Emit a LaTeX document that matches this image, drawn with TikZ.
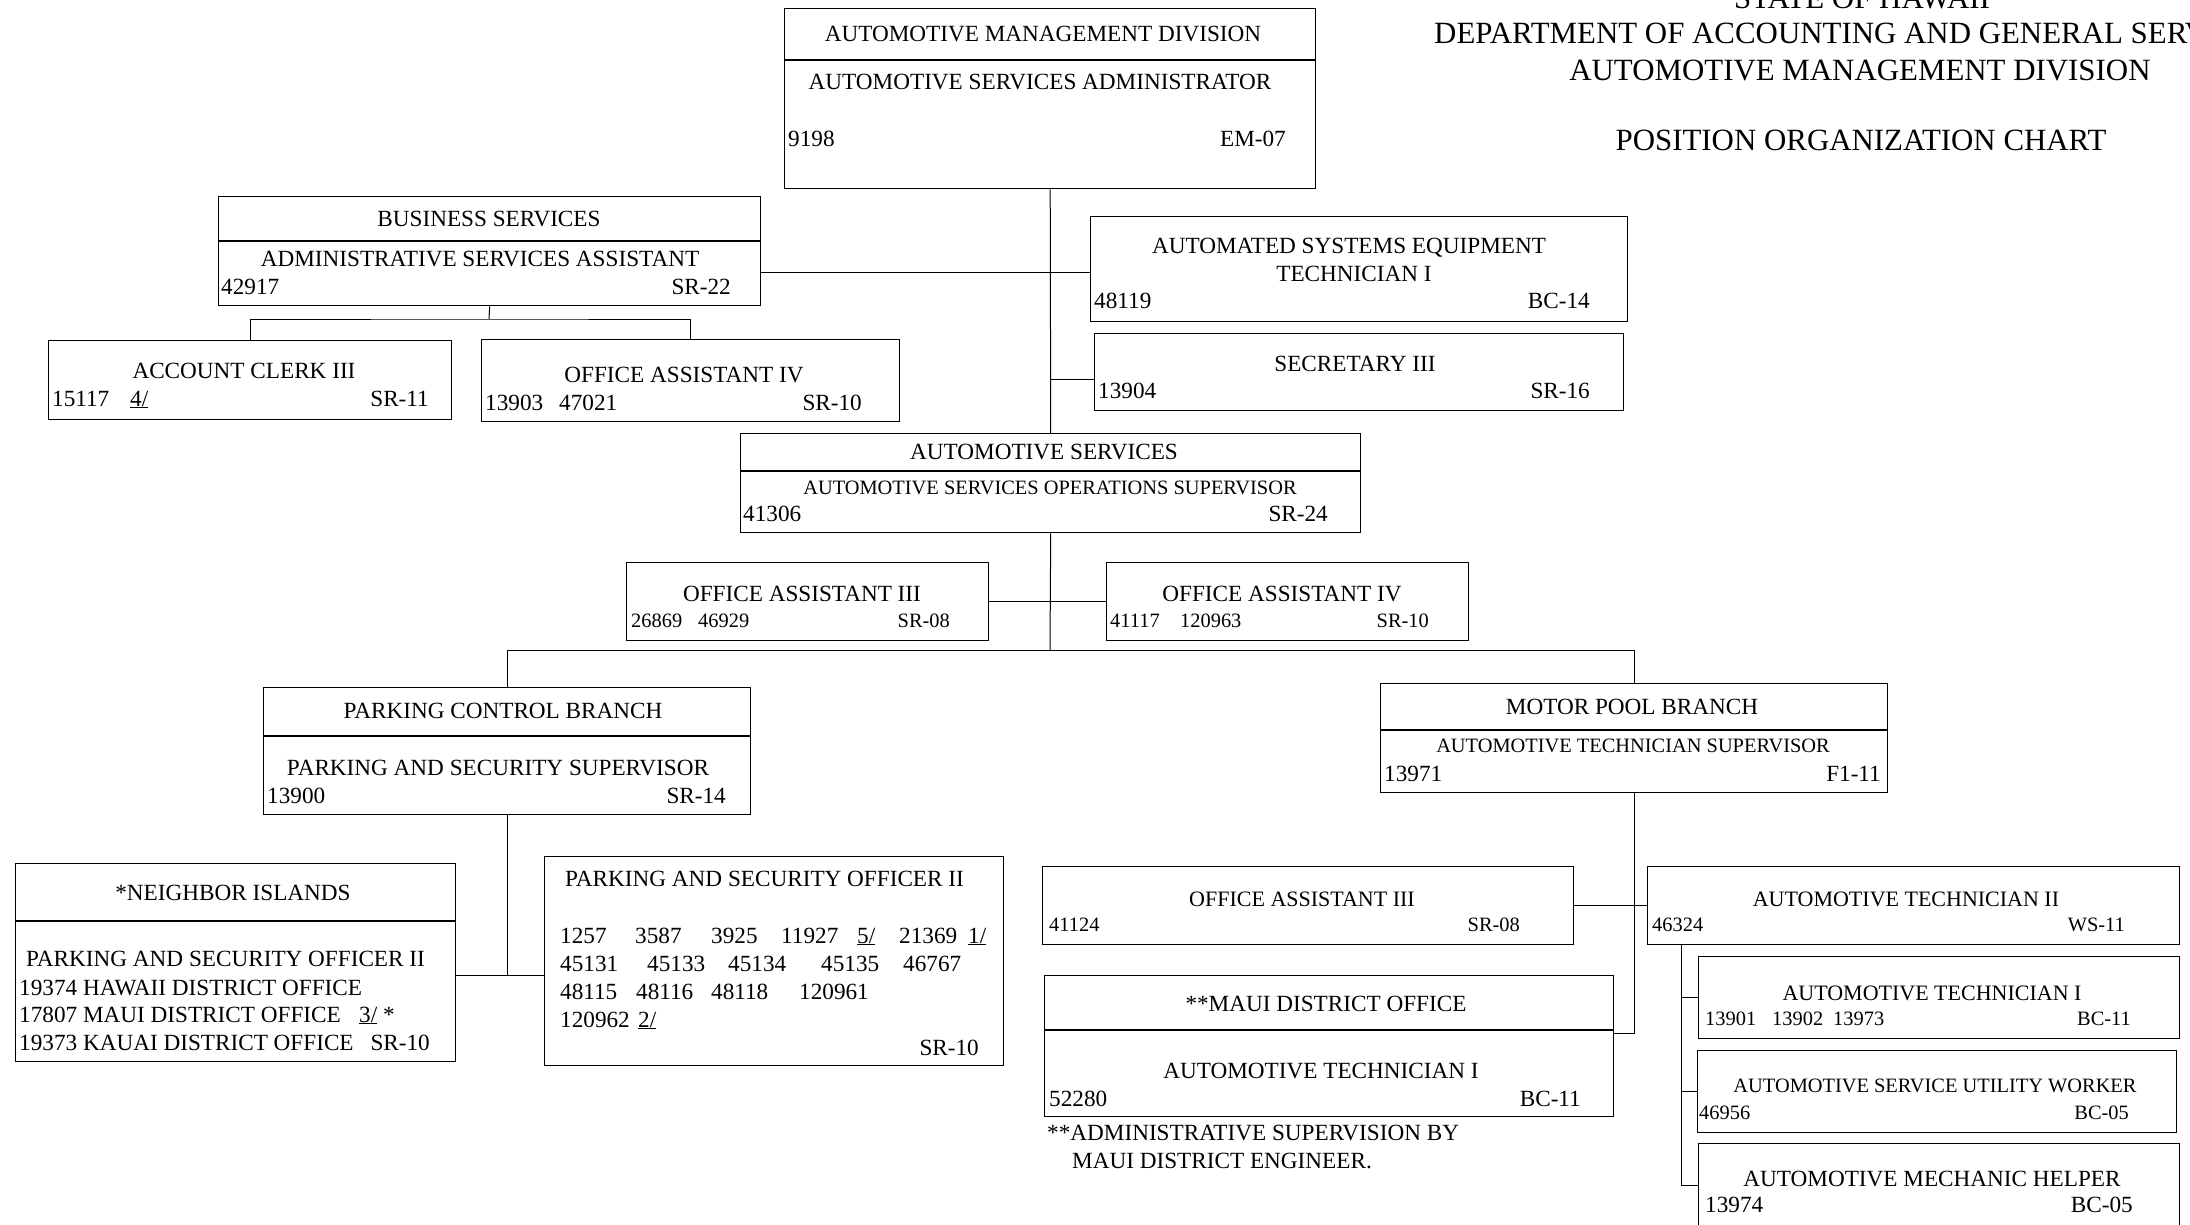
\documentclass[tikz,border=0pt]{standalone}
\usepackage{fontspec}
\setmainfont{Liberation Serif}
\usepackage{tikz}

\newcommand{\boxfont}{\fontsize{23.2}{27}\selectfont}
\newcommand{\boxfontm}{\fontsize{22}{26}\selectfont}
\newcommand{\boxfonts}{\fontsize{20.4}{24}\selectfont}
\newcommand{\headfont}{\fontsize{30.9}{36}\selectfont}

\tikzset{
  posbox/.style={draw, line width=1.4pt, rectangle, inner sep=0pt, anchor=north west},
  divline/.style={line width=1.4pt},
  link/.style={line width=1pt},
  lbl/.style={inner sep=0pt, font=\boxfont},
  lblm/.style={inner sep=0pt, font=\boxfontm},
  lbls/.style={inner sep=0pt, font=\boxfonts},
  ttl/.style={inner sep=0pt, font=\headfont}
}

\begin{document}
\begin{tikzpicture}[x=1pt, y=-1pt]

  \useasboundingbox (0,0) rectangle (2190,1224);
  \clip (0,0) rectangle (2190,1224);

  % Heading
  \node[ttl, anchor=base] (hstate) at (1862,8) {STATE OF HAWAII};
  \node[ttl, anchor=base west] (hdept) at (1434,43) {DEPARTMENT OF ACCOUNTING AND GENERAL SERVICES};
  \node[ttl, anchor=base] (hdiv) at (1860,80) {AUTOMOTIVE MANAGEMENT DIVISION};
  \node[ttl, anchor=base] (hchart) at (1861,150) {POSITION ORGANIZATION CHART};

  % Boxes
  \node[posbox, minimum width=531pt, minimum height=180pt] (amd) at (784,8) {};
  \node[posbox, minimum width=542pt, minimum height=109pt] (bus) at (218,196) {};
  \node[posbox, minimum width=403pt, minimum height=79pt] (acct) at (48,340) {};
  \node[posbox, minimum width=418pt, minimum height=82pt] (oa4a) at (481,339) {};
  \node[posbox, minimum width=537pt, minimum height=105pt] (ase) at (1090,216) {};
  \node[posbox, minimum width=529pt, minimum height=77pt] (sec) at (1094,333) {};
  \node[posbox, minimum width=620pt, minimum height=99pt] (asv) at (740,433) {};
  \node[posbox, minimum width=362pt, minimum height=78pt] (oa3b) at (626,562) {};
  \node[posbox, minimum width=362pt, minimum height=78pt] (oa4b) at (1106,562) {};
  \node[posbox, minimum width=487pt, minimum height=127pt] (pcb) at (263,687) {};
  \node[posbox, minimum width=507pt, minimum height=109pt] (mpb) at (1380,683) {};
  \node[posbox, minimum width=440pt, minimum height=198pt] (nbi) at (15,863) {};
  \node[posbox, minimum width=459pt, minimum height=209pt] (pso) at (544,856) {};
  \node[posbox, minimum width=531pt, minimum height=78pt] (oa3c) at (1042,866) {};
  \node[posbox, minimum width=532pt, minimum height=78pt] (at2) at (1647,866) {};
  \node[posbox, minimum width=569pt, minimum height=141pt] (maui) at (1044,975) {};
  \node[posbox, minimum width=481pt, minimum height=82pt] (at1) at (1698,956) {};
  \node[posbox, minimum width=479pt, minimum height=82pt] (asuw) at (1697,1050) {};
  \node[posbox, minimum width=481pt, minimum height=84pt] (amh) at (1698,1143) {};

  % Box dividers
  \draw[divline] (amd.west |- 0,60) -- (amd.east |- 0,60);
  \draw[divline] (bus.west |- 0,241) -- (bus.east |- 0,241);
  \draw[divline] (asv.west |- 0,471) -- (asv.east |- 0,471);
  \draw[divline] (pcb.west |- 0,736) -- (pcb.east |- 0,736);
  \draw[divline] (mpb.west |- 0,730) -- (mpb.east |- 0,730);
  \draw[divline] (nbi.west |- 0,921) -- (nbi.east |- 0,921);
  \draw[divline] (maui.west |- 0,1030) -- (maui.east |- 0,1030);

  % Connectors
  \coordinate (fork) at (1050,650);
  \coordinate (busbar) at (489,319);
  \coordinate (pcbar) at (0,975);
  \coordinate (mptie) at (0,1033);
  \coordinate (techstem) at (1681,944);
  \coordinate (asejoin) at ([yshift=-3pt]ase.west);
  \coordinate (secjoin) at ([yshift=-7pt]sec.west);

  \draw[link] (amd.south) -- (asv.north);
  \draw[link] (asv.south) -- (fork);
  \draw[link] (asejoin -| bus.east) -- (asejoin);
  \draw[link] (secjoin -| amd.south) -- (secjoin);
  \draw[link] (bus.south) -- (busbar);
  \draw[link] (acct.north) |- (busbar) -| (oa4a.north);
  \draw[link] (oa3b.east) -- (oa4b.west);
  \draw[link] (pcb.north) |- (fork) -| (mpb.north);
  \draw[link] (pcb.south) -- (pcb.south |- pcbar);
  \draw[link] (nbi.east |- pcbar) -- (pso.west |- pcbar);
  \draw[link] (mpb.south) -- (mpb.south |- mptie) -- (maui.east |- mptie);
  \draw[link] (oa3c.east) -- (at2.west);
  \draw[link] (techstem) |- (amh.west);
  \draw[link] (techstem |- at1.west) -- (at1.west);
  \draw[link] (techstem |- asuw.west) -- (asuw.west);

  % Division head
  \node[lbl, anchor=base] (amdhead) at (1043,41) {AUTOMOTIVE MANAGEMENT DIVISION};
  \node[lbl, anchor=base] (amdpos) at (1040,89) {AUTOMOTIVE SERVICES ADMINISTRATOR};
  \node[lbl, anchor=base west] (amdnum) at (788,146) {9198};
  \node[lbl, anchor=base east] (amdsr) at (1286,146) {EM-07};

  % Business services
  \node[lbl, anchor=base] (bushead) at (489,226) {BUSINESS SERVICES};
  \node[lbl, anchor=base] (buspos) at (480,266) {ADMINISTRATIVE SERVICES ASSISTANT};
  \node[lbl, anchor=base west] (busnum) at (221,294) {42917};
  \node[lbl, anchor=base east] (bussr) at (731,294) {SR-22};

  \node[lbl, anchor=base] (acctpos) at (244,378) {ACCOUNT CLERK III};
  \node[lbl, anchor=base west] (acctnum) at (52,406) {15117};
  \node[lbl, anchor=base west] (acctnote) at (130,406) {\underline{4/}};
  \node[lbl, anchor=base east] (acctsr) at (429,406) {SR-11};

  \node[lbl, anchor=base] (oa4apos) at (684,382) {OFFICE ASSISTANT IV};
  \node[lbl, anchor=base west] (oa4anum) at (485,410) {13903};
  \node[lbl, anchor=base west] (oa4anumb) at (559,410) {47021};
  \node[lbl, anchor=base east] (oa4asr) at (862,410) {SR-10};

  % Staff to the division head
  \node[lbl, anchor=base] (asepos) at (1349,253) {AUTOMATED SYSTEMS EQUIPMENT};
  \node[lbl, anchor=base] (aseposb) at (1354,281) {TECHNICIAN I};
  \node[lbl, anchor=base west] (asenum) at (1094,308) {48119};
  \node[lbl, anchor=base east] (asesr) at (1590,308) {BC-14};

  \node[lbl, anchor=base] (secpos) at (1355,371) {SECRETARY III};
  \node[lbl, anchor=base west] (secnum) at (1098,398) {13904};
  \node[lbl, anchor=base east] (secsr) at (1590,398) {SR-16};

  % Automotive services
  \node[lbl, anchor=base] (asvhead) at (1044,459) {AUTOMOTIVE SERVICES};
  \node[lbls, anchor=base] (asvpos) at (1050,494) {AUTOMOTIVE SERVICES OPERATIONS SUPERVISOR};
  \node[lbl, anchor=base west] (asvnum) at (743,521) {41306};
  \node[lbl, anchor=base east] (asvsr) at (1328,521) {SR-24};

  \node[lbl, anchor=base] (oa3bpos) at (802,601) {OFFICE ASSISTANT III};
  \node[lbls, anchor=base west] (oa3bnum) at (631,627) {26869};
  \node[lbls, anchor=base west] (oa3bnumb) at (698,627) {46929};
  \node[lbls, anchor=base east] (oa3bsr) at (950,627) {SR-08};

  \node[lbl, anchor=base] (oa4bpos) at (1282,601) {OFFICE ASSISTANT IV};
  \node[lbls, anchor=base west] (oa4bnum) at (1110,627) {41117};
  \node[lbls, anchor=base west] (oa4bnumb) at (1180,627) {120963};
  \node[lbls, anchor=base east] (oa4bsr) at (1429,627) {SR-10};

  % Parking control branch
  \node[lbl, anchor=base] (pcbhead) at (503,718) {PARKING CONTROL BRANCH};
  \node[lbl, anchor=base] (pcbpos) at (498,775) {PARKING AND SECURITY SUPERVISOR};
  \node[lbl, anchor=base west] (pcbnum) at (267,803) {13900};
  \node[lbl, anchor=base east] (pcbsr) at (726,803) {SR-14};

  \node[lbl, anchor=base] (nbihead) at (233,900) {*NEIGHBOR ISLANDS};
  \node[lbl, anchor=base west] (nbipos) at (26,966) {PARKING AND SECURITY OFFICER II};
  \node[lbl, anchor=base west] (nbihaw) at (19,995) {19374 HAWAII DISTRICT OFFICE};
  \node[lbl, anchor=base west] (nbimau) at (19,1022) {17807 MAUI DISTRICT OFFICE};
  \node[lbl, anchor=base west] (nbinote) at (359,1022) {\underline{3/} *};
  \node[lbl, anchor=base west] (nbikau) at (19,1050) {19373 KAUAI DISTRICT OFFICE};
  \node[lbl, anchor=base east] (nbisr) at (430,1050) {SR-10};

  \node[lbl, anchor=base west] (psopos) at (565,886) {PARKING AND SECURITY OFFICER II};
  \node[lbl, anchor=base west] (pa1) at (560,943) {1257};
  \node[lbl, anchor=base west] (pa2) at (635,943) {3587};
  \node[lbl, anchor=base west] (pa3) at (711,943) {3925};
  \node[lbl, anchor=base west] (pa4) at (781,943) {11927};
  \node[lbl, anchor=base west] (pa5) at (857,943) {\underline{5/}};
  \node[lbl, anchor=base west] (pa6) at (899,943) {21369};
  \node[lbl, anchor=base west] (pa7) at (968,943) {\underline{1/}};
  \node[lbl, anchor=base west] (pb1) at (560,971) {45131};
  \node[lbl, anchor=base west] (pb2) at (647,971) {45133};
  \node[lbl, anchor=base west] (pb3) at (728,971) {45134};
  \node[lbl, anchor=base west] (pb4) at (821,971) {45135};
  \node[lbl, anchor=base west] (pb5) at (903,971) {46767};
  \node[lbl, anchor=base west] (pc1) at (560,999) {48115};
  \node[lbl, anchor=base west] (pc2) at (636,999) {48116};
  \node[lbl, anchor=base west] (pc3) at (711,999) {48118};
  \node[lbl, anchor=base west] (pc4) at (799,999) {120961};
  \node[lbl, anchor=base west] (pd1) at (560,1027) {120962};
  \node[lbl, anchor=base west] (pd2) at (638,1027) {\underline{2/}};
  \node[lbl, anchor=base east] (psosr) at (979,1055) {SR-10};

  % Motor pool branch
  \node[lbl, anchor=base] (mpbhead) at (1632,714) {MOTOR POOL BRANCH};
  \node[lbls, anchor=base] (mpbpos) at (1633,752) {AUTOMOTIVE TECHNICIAN SUPERVISOR};
  \node[lbl, anchor=base west] (mpbnum) at (1384,781) {13971};
  \node[lbl, anchor=base east] (mpbsr) at (1881,781) {F1-11};

  \node[lblm, anchor=base] (oa3cpos) at (1302,906) {OFFICE ASSISTANT III};
  \node[lbls, anchor=base west] (oa3cnum) at (1049,931) {41124};
  \node[lbls, anchor=base east] (oa3csr) at (1520,931) {SR-08};

  \node[lblm, anchor=base] (at2pos) at (1906,906) {AUTOMOTIVE TECHNICIAN II};
  \node[lbls, anchor=base west] (at2num) at (1652,931) {46324};
  \node[lbls, anchor=base east] (at2sr) at (2125,931) {WS-11};

  \node[lbl, anchor=base] (mauihead) at (1326,1011) {**MAUI DISTRICT OFFICE};
  \node[lbl, anchor=base] (mauipos) at (1321,1078) {AUTOMOTIVE TECHNICIAN I};
  \node[lbl, anchor=base west] (mauinum) at (1049,1106) {52280};
  \node[lbl, anchor=base east] (mauisr) at (1581,1106) {BC-11};
  \node[lbl, anchor=base west] (mauifoot) at (1047,1140) {**ADMINISTRATIVE SUPERVISION BY};
  \node[lbl, anchor=base west] (mauifootb) at (1072,1168) {MAUI DISTRICT ENGINEER.};

  \node[lblm, anchor=base] (at1pos) at (1932,1000) {AUTOMOTIVE TECHNICIAN I};
  \node[lbls, anchor=base west] (at1num) at (1705,1025) {13901};
  \node[lbls, anchor=base west] (at1numb) at (1772,1025) {13902};
  \node[lbls, anchor=base west] (at1numc) at (1833,1025) {13973};
  \node[lbls, anchor=base east] (at1sr) at (2131,1025) {BC-11};

  \node[lbls, anchor=base] (asuwpos) at (1935,1092) {AUTOMOTIVE SERVICE UTILITY WORKER};
  \node[lbls, anchor=base west] (asuwnum) at (1699,1119) {46956};
  \node[lbls, anchor=base east] (asuwsr) at (2129,1119) {BC-05};

  \node[lbl, anchor=base] (amhpos) at (1932,1186) {AUTOMOTIVE MECHANIC HELPER};
  \node[lbl, anchor=base west] (amhnum) at (1705,1212) {13974};
  \node[lbl, anchor=base east] (amhsr) at (2133,1212) {BC-05};

\end{tikzpicture}
\end{document}
